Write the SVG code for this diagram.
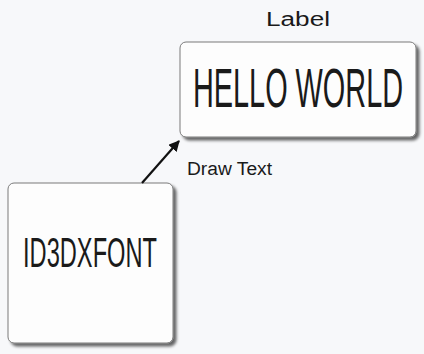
<svg xmlns="http://www.w3.org/2000/svg" width="424" height="354" viewBox="0 0 424 354">
<defs>
<filter id="sh" x="-10%" y="-10%" width="130%" height="130%">
<feGaussianBlur in="SourceAlpha" stdDeviation="1.5"/>
<feOffset dx="3" dy="3" result="b"/>
<feComponentTransfer><feFuncA type="linear" slope="0.6"/></feComponentTransfer>
<feMerge><feMergeNode/><feMergeNode in="SourceGraphic"/></feMerge>
</filter>
<marker id="ah" viewBox="0 0 10 10" refX="9" refY="5" markerWidth="5" markerHeight="5" orient="auto">
<path d="M0,0 L10,5 L0,10 z" fill="#111"/>
</marker>
</defs>
<style>
.box{fill:#fdfdfd;stroke:#7a7a7a;stroke-width:1;filter:url(#sh)}
.t{font-family:"Liberation Sans",Arial,sans-serif;fill:#1a1a1a}
</style>
<rect width="424" height="354" fill="#f7f8fa"/>
<g id="label-node">
<rect class="box" x="180" y="42" width="236" height="95" rx="6"/>
<text class="t" x="298" y="26" font-size="20" text-anchor="middle" textLength="64" lengthAdjust="spacingAndGlyphs">Label</text>
<text class="t" transform="translate(298,107) scale(0.525,1)" x="0" y="0" font-size="55" text-anchor="middle">HELLO WORLD</text>
</g>
<g id="font-node">
<rect class="box" x="8" y="183" width="165" height="160" rx="6"/>
<text class="t" x="90" y="267" font-size="42" text-anchor="middle" textLength="134" lengthAdjust="spacingAndGlyphs">ID3DXFONT</text>
</g>
<g id="connectors">
<line x1="142" y1="183" x2="179" y2="141" stroke="#111" stroke-width="2.2" marker-end="url(#ah)"/>
<text class="t" x="187" y="175" font-size="18" textLength="85" lengthAdjust="spacingAndGlyphs">Draw Text</text>
</g>
</svg>
